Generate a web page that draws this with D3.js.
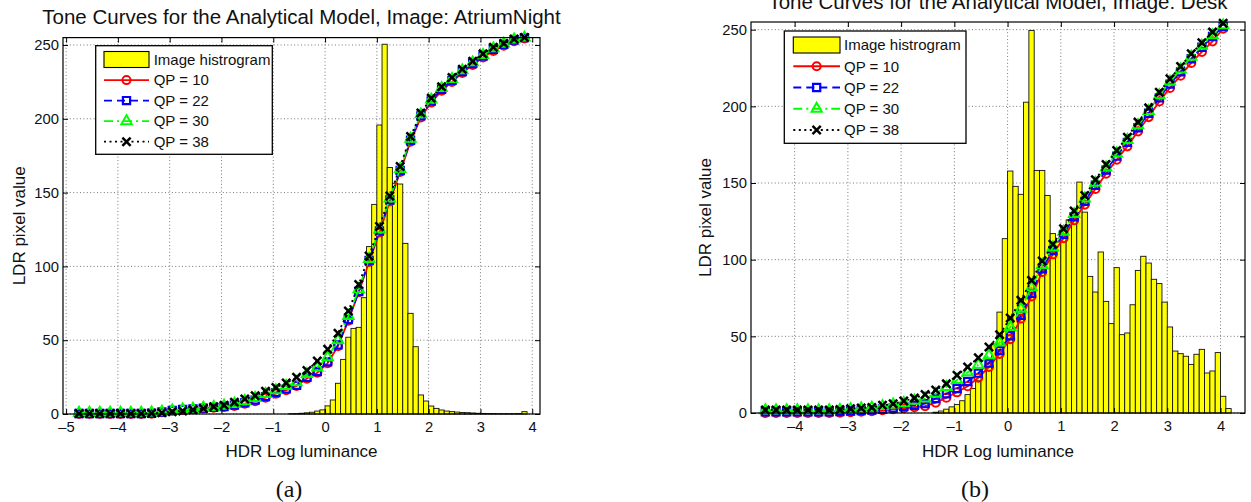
<!DOCTYPE html>
<html><head><meta charset="utf-8">
<script src="https://cdn.jsdelivr.net/npm/d3@7"></script>
<style>
html,body{margin:0;padding:0;background:#fff;}
svg{display:block;}
</style></head><body>
<svg id="chart" width="1251" height="502"></svg>
<script>
// ---------------- data ----------------
const xTicksA = [-5,-4,-3,-2,-1,0,1,2,3,4];
const xTicksB = [-4,-3,-2,-1,0,1,2,3,4];
const yTicks = [0,50,100,150,200,250];
const seriesNames = ["QP = 10","QP = 22","QP = 30","QP = 38"];
const histName = "Image histrogram";

// Panel (a): AtriumNight
const curveXA = [-4.75,-4.55,-4.35,-4.15,-3.95,-3.75,-3.55,-3.35,-3.15,-2.95,-2.75,-2.55,-2.35,-2.15,-1.95,-1.75,-1.55,-1.35,-1.15,-0.95,-0.75,-0.55,-0.35,-0.15,0.05,0.25,0.45,0.65,0.85,1.05,1.25,1.45,1.65,1.85,2.05,2.25,2.45,2.65,2.85,3.05,3.25,3.45,3.65,3.85];
const qp10A = [0,0,0,0,0,0,0,0.2, 1.2,2.2,2.8,3.3,3.8,4.3,4.8,5.5, 7.0,8.7,11,13.8,16.2,19,24,28, 34.5,46,63.3,82.5,103,123,144,164, 184.5,201,211,219,225,231,236.5,241.5, 246,249.5,252.5,254.5];
const qp22A = [0.3,0.3,0.3,0.3,0.3,0.3,0.3,0.5, 1.4,2.4,3.0,3.5,4.0,4.5,5.1,6.0, 7.6,9.4,11.8,14.5,17.0,19.5,24.8,28.8, 35.4,46.8,64,83,104,124,145,165, 185.5,202,212,220,226,232,237.5,242.5, 247,250.5,253.3,255];
const qp30A = [0.8,0.8,0.8,0.8,0.8,0.8,0.8,1.0, 1.5,2.4,3.0,3.6,4.3,4.8,5.6,7.0, 8.8,10.9,13.6,16,19.0,21.5,27,31.5, 38.4,50,66.4,84.5,105,125,146,166, 186.5,203,213,220.8,227,232.8,238.2,243.2, 247.7,250.8,253.7,255];
const qp38A = [0.3,0.3,0.3,0.3,0.3,0.3,0.3,0.5, 0.8,1.6,2.1,2.8,3.8,4.9,6.0,7.9, 10.1,12.4,15.4,18.0,21.0,24.9,29.4,35.9, 43.8,54.7,69.8,87.7,107,127,147.7,167.6, 188,204,214,221.7,228,233.5,239,244, 248.4,251,254,255];
const histXA = [-0.65,-0.55,-0.45,-0.35,-0.25,-0.15,-0.05,0.05,0.15,0.25,0.35,0.45,0.55,0.65,0.75,0.85,0.95,1.05,1.15,1.25,1.35,1.45,1.55,1.65,1.75,1.85,1.95,2.05,2.15,2.25,2.35,2.45,2.55,2.65,2.75,2.85,2.95,3.05,3.15,3.25,3.35,3.45,3.55,3.65,3.75,3.85];
const histA = [0.2,0.3,0.5,0.8,1.2,2,2.8, 5.5,9.5,20.8,37,52,58,58.7, 78.8,113.4,142,195.8,250.5,167,156.3, 155.8,115.6,68.2,45.6,12.9,8.8,5.4, 3.8,2.7,2,1.6,1.3,1.0,0.9, 0.7,0.5,0.4,0.3,0.3,0.2,0.2, 0.2,0.2,0.3,1.6];

// Panel (b): Desk
const curveXB = [-4.55,-4.35,-4.15,-3.95,-3.75,-3.55,-3.35,-3.15,-2.95,-2.75,-2.55,-2.35,-2.15,-1.95,-1.75,-1.55,-1.35,-1.15,-0.95,-0.75,-0.55,-0.35,-0.15,0.05,0.25,0.45,0.65,0.85,1.05,1.25,1.45,1.65,1.85,2.05,2.25,2.45,2.65,2.85,3.05,3.25,3.45,3.65,3.85,4.05];
const qp10B = [0,0,0,0,0,0,0,0.2, 0.5,0.8,1.2,1.8,2.5,3.1,3.8,4.5, 6.7,10,13.5,17.5,23,30,38.6,48.2, 61.6,76,92,103.5,114,125.7,135.9,146.1, 156.1,165.2,173.9,183.7,193,203.2,212,220, 228.3,235.5,242.4,250.6];
const qp22B = [0.8,0.8,0.8,0.8,0.8,0.8,0.8,1.0, 1.3,1.6,2.0,2.6,3.3,4.2,5.0,6.1, 9.5,12.5,16,20.5,26,32.5,40.8,50.4, 63.7,78,94,106,116.5,128,138,148.5, 158.5,167.5,176.5,186,195.5,205.5,214.5,222.5, 231,238.5,245.5,252];
const qp30B = [1.8,1.8,1.8,1.8,1.8,1.8,1.8,2.0, 2.5,3.0,3.5,4.5,5.5,6.5,8,9.5, 12.5,17,21.5,26.5,31.5,37.6,46,56, 68,82,96.5,108,118.2,129.7,139.9,150.1, 160.1,169.2,178,187.7,197,207.2,216,224, 232.3,239.5,246.4,252.8];
const qp38B = [2,2,2,2,2,2,2,2.2, 2.8,3.2,3.6,5,6,7.8,9.7,12, 15,19,24.6,30,36,43,51,62, 73.5,86.5,99.1,110,120.2,131.7,141.9,152.1, 162.1,171.2,179.9,189.7,199,209.2,218,226, 234.3,241.5,248.4,254.2];
const histXB = [-1.35,-1.25,-1.15,-1.05,-0.95,-0.85,-0.75,-0.65,-0.55,-0.45,-0.35,-0.25,-0.15,-0.05,0.05,0.15,0.25,0.35,0.45,0.55,0.65,0.75,0.85,0.95,1.05,1.15,1.25,1.35,1.45,1.55,1.65,1.75,1.85,1.95,2.05,2.15,2.25,2.35,2.45,2.55,2.65,2.75,2.85,2.95,3.05,3.15,3.25,3.35,3.45,3.55,3.65,3.75,3.85,3.95,4.05,4.15];
const histB = [0.5,1.3,2.5,4,5.5,8,12,16,21,27, 34,45,65.8,113.7,157.8,147.8,142.6,202.7,249.5,158.2, 158.2,141.9,117,111.5,122,126,128,150.6,131,89.1, 78.9,105,72.8,58.3,94.8,51.1,52.2,70.6,93,102.2, 97.8,87.2,84.4,72.3,56.1,40.4,38.7,37,31.7,38.3, 41.5,26.1,27.4,39.4,10.9,2.9];

// ---------------- drawing ----------------
const SANS = "'Liberation Sans', Arial, Helvetica, sans-serif";
const SERIF = "'Liberation Serif', 'Times New Roman', serif";
const svg = d3.select("#chart");

const seriesStyles = [
  {color:"#ff0000", dash:null,        sym:d3.symbolCircle,    size:52, sw:2},
  {color:"#0000ff", dash:"8,5",       sym:d3.symbolSquare2,   size:66, sw:2.2},
  {color:"#00ff00", dash:"9,4,2,4",   sym:d3.symbolTriangle2, size:76, sw:2},
  {color:"#000000", dash:"2,3.5",     sym:d3.symbolTimes,     size:46, sw:2.5}
];
const fmt = d => d < 0 ? "\u2013" + Math.abs(d) : String(d);

function drawPanel(p) {
  const x = d3.scaleLinear().domain(p.xDomain).range(p.xRange);
  const y = d3.scaleLinear().domain([0,255]).range(p.yRange);
  const [xl, xr] = p.xRange;
  const [yb, yt] = p.yRange;
  const g = svg.append("g");

  // grid
  const grid = g.append("g").attr("stroke","#555").attr("stroke-width",0.8).attr("stroke-dasharray","1,2.4");
  grid.selectAll("line.gx").data(p.xTicks).join("line").attr("class","gx")
    .attr("x1",d=>x(d)).attr("x2",d=>x(d)).attr("y1",yt).attr("y2",yb);
  grid.selectAll("line.gy").data(yTicks).join("line").attr("class","gy")
    .attr("x1",xl).attr("x2",xr).attr("y1",d=>y(d)).attr("y2",d=>y(d));

  // histogram
  const bw = x(p.histX[1]) - x(p.histX[0]);
  g.append("g").selectAll("rect").data(p.histX.map((c,i)=>({c, v:p.hist[i]}))).join("rect")
    .attr("x", d => x(d.c) - bw/2).attr("width", bw)
    .attr("y", d => y(d.v)).attr("height", d => y(0) - y(d.v))
    .attr("fill","#ffff00").attr("stroke","#111").attr("stroke-width",0.9);

  // curves
  p.series.forEach((vals, si) => {
    const st = seriesStyles[si];
    const pts = p.curveX.map((cx,i)=>[cx, vals[i]]);
    const line = d3.line().x(d=>x(d[0])).y(d=>y(d[1]));
    const sg = g.append("g");
    sg.append("path").attr("d", line(pts)).attr("fill","none")
      .attr("stroke", st.color).attr("stroke-width",1.8)
      .attr("stroke-dasharray", st.dash);
    const sym = d3.symbol(st.sym, st.size);
    sg.selectAll("path.m").data(pts).join("path").attr("class","m")
      .attr("d", sym).attr("transform", d=>`translate(${x(d[0])},${y(d[1])})`)
      .attr("fill","none").attr("stroke", st.color).attr("stroke-width", st.sw);
  });

  // axes
  const ax = g.append("g");
  const gb = ax.append("g").attr("transform",`translate(0,${yb})`)
    .call(d3.axisBottom(x).tickValues(p.xTicks).tickSizeInner(-5).tickSizeOuter(0).tickPadding(7).tickFormat(fmt));
  const gtp = ax.append("g").attr("transform",`translate(0,${yt})`)
    .call(d3.axisTop(x).tickValues(p.xTicks).tickSizeInner(-5).tickSizeOuter(0).tickFormat(""));
  const gl = ax.append("g").attr("transform",`translate(${xl},0)`)
    .call(d3.axisLeft(y).tickValues(yTicks).tickSizeInner(-5).tickSizeOuter(0).tickPadding(4));
  const gr = ax.append("g").attr("transform",`translate(${xr},0)`)
    .call(d3.axisRight(y).tickValues(yTicks).tickSizeInner(-5).tickSizeOuter(0).tickFormat(""));
  [gb,gtp,gl,gr].forEach(a => {
    a.select(".domain").remove();
    a.attr("font-family", SANS).attr("font-size", 14.8);
    a.selectAll("line").attr("stroke","#000").attr("stroke-width",1);
    a.selectAll("text").attr("fill","#111");
  });
  gtp.selectAll("text").remove();
  gr.selectAll("text").remove();
  ax.append("rect").attr("x",xl).attr("y",yt).attr("width",xr-xl).attr("height",yb-yt)
    .attr("fill","none").attr("stroke","#000").attr("stroke-width",1.2);

  // texts
  const cx = (xl+xr)/2;
  g.append("text").attr("x",cx).attr("y",p.titleY).attr("text-anchor","middle")
    .attr("font-family",SANS).attr("font-size",20.5).attr("fill","#111").text(p.title);
  g.append("text").attr("x",cx).attr("y",457).attr("text-anchor","middle")
    .attr("font-family",SANS).attr("font-size",17).attr("fill","#111").text("HDR Log luminance");
  g.append("text").attr("transform",`translate(${p.yLabelX},${(yb+yt)/2}) rotate(-90)`)
    .attr("text-anchor","middle").attr("font-family",SANS).attr("font-size",17).attr("fill","#111")
    .text("LDR pixel value");
  g.append("text").attr("x",p.subX).attr("y",497).attr("text-anchor","middle")
    .attr("font-family",SERIF).attr("font-size",24).attr("fill","#111").text(p.sub);

  // legend
  const L = p.legend;
  const lg = g.append("g");
  lg.append("rect").attr("x",L.x).attr("y",L.y).attr("width",L.w).attr("height",L.h)
    .attr("fill","#fff").attr("stroke","#000").attr("stroke-width",1.3);
  lg.append("rect").attr("x",L.sx).attr("y",L.row0-8).attr("width",L.sw).attr("height",16)
    .attr("fill","#ffff00").attr("stroke","#000").attr("stroke-width",1.1);
  const labels = [histName].concat(seriesNames);
  labels.forEach((t,i) => {
    lg.append("text").attr("x",L.tx).attr("y",L.row0 + L.dy*i).attr("dy","0.35em")
      .attr("font-family",SANS).attr("font-size",15).attr("fill","#111").text(t);
  });
  seriesNames.forEach((t,i) => {
    const st = seriesStyles[i];
    const ry = L.row0 + L.dy*(i+1);
    lg.append("line").attr("x1",L.sx).attr("x2",L.sx+L.sw).attr("y1",ry).attr("y2",ry)
      .attr("stroke",st.color).attr("stroke-width",1.8).attr("stroke-dasharray",st.dash);
    lg.append("path").attr("d", d3.symbol(st.sym, st.size)())
      .attr("transform",`translate(${L.sx+L.sw/2},${ry})`)
      .attr("fill","none").attr("stroke",st.color).attr("stroke-width",st.sw);
  });
}

drawPanel({
  title:"Tone Curves for the Analytical Model, Image: AtriumNight", sub:"(a)",
  xDomain:[-5.06, 4.15], xRange:[63, 540], yRange:[414, 37.6], xTicks:xTicksA,
  curveX:curveXA, series:[qp10A,qp22A,qp30A,qp38A], histX:histXA, hist:histA,
  titleY:24, subX:289, yLabelX:25,
  legend:{x:95.7, y:45.7, w:176.6, h:108.6, sx:104, sw:45, tx:153.7, row0:59.5, dy:20.55}
});
drawPanel({
  title:"Tone Curves for the Analytical Model, Image: Desk", sub:"(b)",
  xDomain:[-4.82, 4.46], xRange:[751, 1245], yRange:[413, 22], xTicks:xTicksB,
  curveX:curveXB, series:[qp10B,qp22B,qp30B,qp38B], histX:histXB, hist:histB,
  titleY:9, subX:975, yLabelX:711,
  legend:{x:784.3, y:31, w:181.7, h:112.3, sx:793.3, sw:46.7, tx:844, row0:45, dy:21.25}
});
</script>
</body></html>
